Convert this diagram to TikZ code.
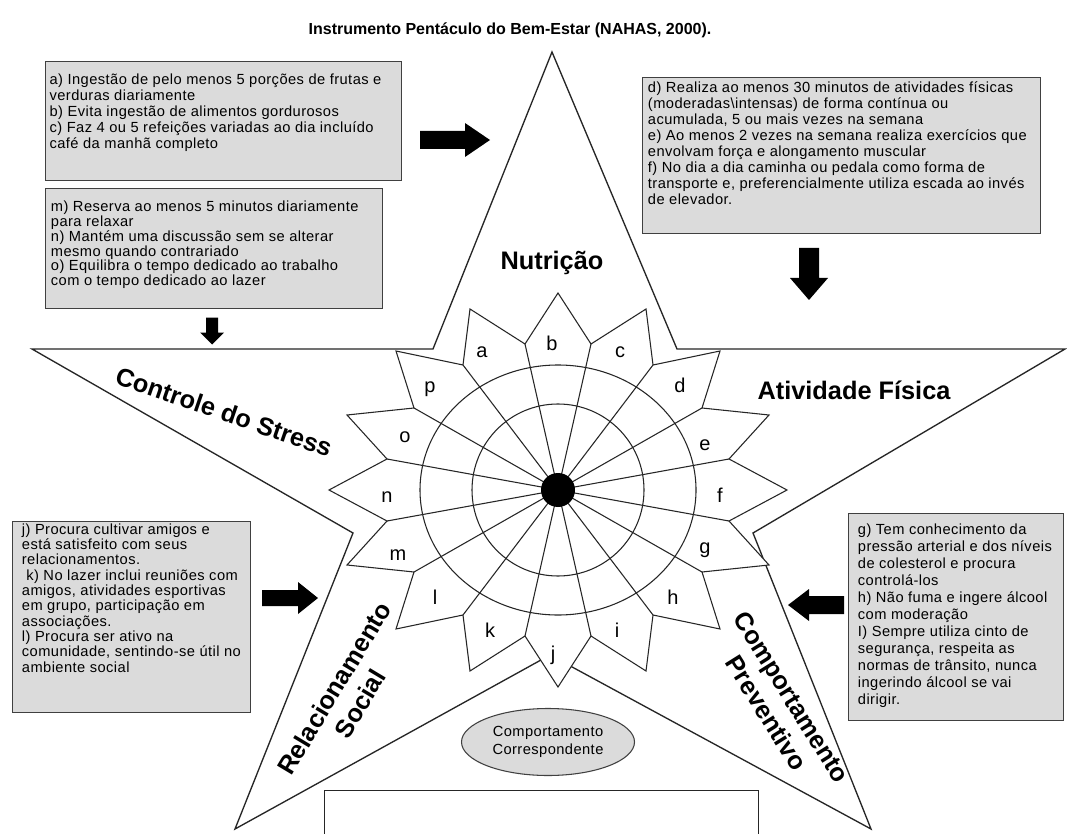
\documentclass[tikz,border=0pt]{standalone}
\usepackage{fontspec}
\setmainfont{Liberation Sans}
\newfontfamily\boxfont[LetterSpace=3]{Liberation Sans}
\usetikzlibrary{shapes.geometric}
\newcommand{\BoxTxt}[5]{\parbox[c][#2][t]{#1}{\raggedright\leftskip=#4\relax\vspace*{#3}#5}}
\begin{document}
\begin{tikzpicture}[x=0.75pt,y=-0.75pt,
  starline/.style={line width=1pt, draw=black!85},
  rosline/.style={line width=0.8pt, draw=black!85},
  txtbox/.style={draw=black!75, line width=0.9pt, fill=gray!28, inner sep=0pt, anchor=north west},
  armlbl/.style={font=\fontsize{19}{22.5}\selectfont\bfseries, align=center, inner sep=0pt},
  petlbl/.style={font=\fontsize{15}{18}\selectfont, inner sep=0pt},
  arrowfill/.style={fill=black}]
\useasboundingbox (0,0) rectangle (1067,834);
\clip (0,0) rectangle (1067,834);
\fill[white] (0,0) rectangle (1067,834);

% title
\node[font=\fontsize{12}{14}\selectfont\bfseries] (title) at (510,30) {Instrumento Pentáculo do Bem-Estar (NAHAS, 2000).};

% star
\draw[starline] (552,52) -- (677,349) -- (1065,349) -- (753,533) -- (871,829) -- (550,655) -- (235,829) -- (353,533) -- (32,349) -- (433,349) -- cycle;

% rosette
\begin{scope}[shift={(558,490)}, yscale=-1]
  \coordinate (C) at (0,0);
  \draw[rosline, fill=white] (0,197) -- (33,146) -- (88,181) -- (95,125) -- (162,139) -- (144,82) -- (211,75) -- (171,31) -- (229,0) -- (171,-31) -- (211,-75) -- (144,-82) -- (162,-139) -- (95,-125) -- (88,-181) -- (33,-146) -- (0,-197) -- (-33,-146) -- (-88,-181) -- (-95,-125) -- (-162,-139) -- (-144,-82) -- (-211,-75) -- (-171,-31) -- (-229,0) -- (-171,31) -- (-211,75) -- (-144,82) -- (-162,139) -- (-95,125) -- (-88,181) -- (-33,146) -- cycle;
  \draw[rosline] (C) ellipse [x radius=138, y radius=125];
  \draw[rosline] (C) circle [radius=86];
  \foreach \p in {(33,146),(95,125),(144,82),(171,31),(171,-31),(144,-82),(95,-125),(33,-146),(-33,-146),(-95,-125),(-144,-82),(-171,-31),(-171,31),(-144,82),(-95,125),(-33,146)}
    \draw[rosline] (C) -- \p;
  \fill (C) circle [radius=17];
\end{scope}

% petal letters
\node[petlbl] (la) at (482,352) {a};
\node[petlbl] (lb) at (552,343) {b};
\node[petlbl] (lc) at (620,352) {c};
\node[petlbl] (ld) at (680,385) {d};
\node[petlbl] (le) at (705,445) {e};
\node[petlbl] (lf) at (720,495) {f};
\node[petlbl] (lg) at (705,550) {g};
\node[petlbl] (lh) at (673,597) {h};
\node[petlbl] (li) at (617,630) {i};
\node[petlbl] (lj) at (553,655) {j};
\node[petlbl] (lk) at (490,630) {k};
\node[petlbl] (ll) at (435,597) {l};
\node[petlbl] (lm) at (398,555) {m};
\node[petlbl] (ln) at (387,497) {n};
\node[petlbl] (lo) at (405,437) {o};
\node[petlbl] (lp) at (430,389) {p};

% arm labels
\node[armlbl] (nut) at (552,263) {Nutrição};
\node[armlbl] (ativ) at (854,390) {Atividade Física};
\node[armlbl, rotate=-19] (stress) at (224,412) {Controle do Stress};
\node[armlbl, rotate=59] (social) at (347,696) {Relacionamento\\Social};
\node[armlbl, rotate=-58] (prev) at (779,705) {Comportamento\\Preventivo};

% text boxes
\node[txtbox, font=\boxfont\fontsize{11}{12}\selectfont] (bnut) at (45,61)
  {\BoxTxt{267pt}{89.25pt}{9pt}{3pt}{a) Ingestão de pelo menos 5 porções de frutas e\\ verduras diariamente\\ b) Evita ingestão de alimentos gordurosos\\ c) Faz 4 ou 5 refeições variadas ao dia incluído\\ café da manhã completo}};
\node[txtbox, font=\boxfont\fontsize{11}{11.2}\selectfont] (bstr) at (45,188)
  {\BoxTxt{252.75pt}{90pt}{9pt}{4pt}{m) Reserva ao menos 5 minutos diariamente\\ para relaxar\\ n) Mantém uma discussão sem se alterar\\ mesmo quando contrariado\\ o) Equilibra o tempo dedicado ao trabalho\\ com o tempo dedicado ao lazer}};
\node[txtbox, font=\boxfont\fontsize{11}{12}\selectfont] (bativ) at (642,77)
  {\BoxTxt{298.5pt}{117pt}{3pt}{4pt}{d) Realiza ao menos 30 minutos de atividades físicas\\ (moderadas\textbackslash intensas) de forma contínua ou\\ acumulada, 5 ou mais vezes na semana\\ e) Ao menos 2 vezes na semana realiza exercícios que\\ envolvam força e alongamento muscular\\ f) No dia a dia caminha ou pedala como forma de\\ transporte e, preferencialmente utiliza escada ao invés\\ de elevador.}};
\node[txtbox, font=\boxfont\fontsize{11}{11.5}\selectfont] (bsoc) at (12,521)
  {\BoxTxt{178.5pt}{143.25pt}{1.5pt}{7pt}{j) Procura cultivar amigos e\\ está satisfeito com seus\\ relacionamentos.\\ \hspace*{0.3em}k) No lazer inclui reuniões com\\ amigos, atividades esportivas\\ em grupo, participação em\\ associações.\\ l) Procura ser ativo na\\ comunidade, sentindo-se útil no\\ ambiente social}};
\node[txtbox, font=\boxfont\fontsize{11}{12.75}\selectfont] (bprev) at (848,513)
  {\BoxTxt{161.25pt}{155.25pt}{7.5pt}{7pt}{g) Tem conhecimento da\\ pressão arterial e dos níveis\\ de colesterol e procura\\ controlá-los\\ h) Não fuma e ingere álcool\\ com moderação\\ I) Sempre utiliza cinto de\\ segurança, respeita as\\ normas de trânsito, nunca\\ ingerindo álcool se vai\\ dirigir.}};

% block arrows
\begin{scope}[shift={(455,140)}]
  \coordinate (arN) at (0,0);
  \fill[arrowfill] (-35,-9) -- (10,-9) -- (10,-17) -- (35,0) -- (10,17) -- (10,9) -- (-35,9) -- cycle;
\end{scope}
\begin{scope}[shift={(809,274)}, rotate=-90]
  \coordinate (arA) at (0,0);
  \fill[arrowfill] (-26,-10) -- (4,-10) -- (4,-19) -- (26,0) -- (4,19) -- (4,10) -- (-26,10) -- cycle;
\end{scope}
\begin{scope}[shift={(212,331)}, rotate=-90]
  \coordinate (arS) at (0,0);
  \fill[arrowfill] (-13.5,-6) -- (1.5,-6) -- (1.5,-12) -- (13.5,0) -- (1.5,12) -- (1.5,6) -- (-13.5,6) -- cycle;
\end{scope}
\begin{scope}[shift={(290,598)}]
  \coordinate (arR) at (0,0);
  \fill[arrowfill] (-28,-8) -- (8,-8) -- (8,-16) -- (28,0) -- (8,16) -- (8,8) -- (-28,8) -- cycle;
\end{scope}
\begin{scope}[shift={(816,605)}, rotate=180]
  \coordinate (arP) at (0,0);
  \fill[arrowfill] (-28,-9) -- (7,-9) -- (7,-16) -- (28,0) -- (7,16) -- (7,9) -- (-28,9) -- cycle;
\end{scope}

% legend ellipse and answer box
\node[ellipse, draw=black!75, line width=0.8pt, fill=gray!28, minimum width=129.75pt, minimum height=50.25pt, inner sep=0pt, align=center, font=\boxfont\fontsize{11}{14}\selectfont] (legend) at (548,742) {Comportamento\\Correspondente};
\node[draw=black!85, line width=1pt, fill=white, minimum width=325.5pt, minimum height=45pt, inner sep=0pt, anchor=north west] (answer) at (324,790) {};
\end{tikzpicture}
\end{document}
